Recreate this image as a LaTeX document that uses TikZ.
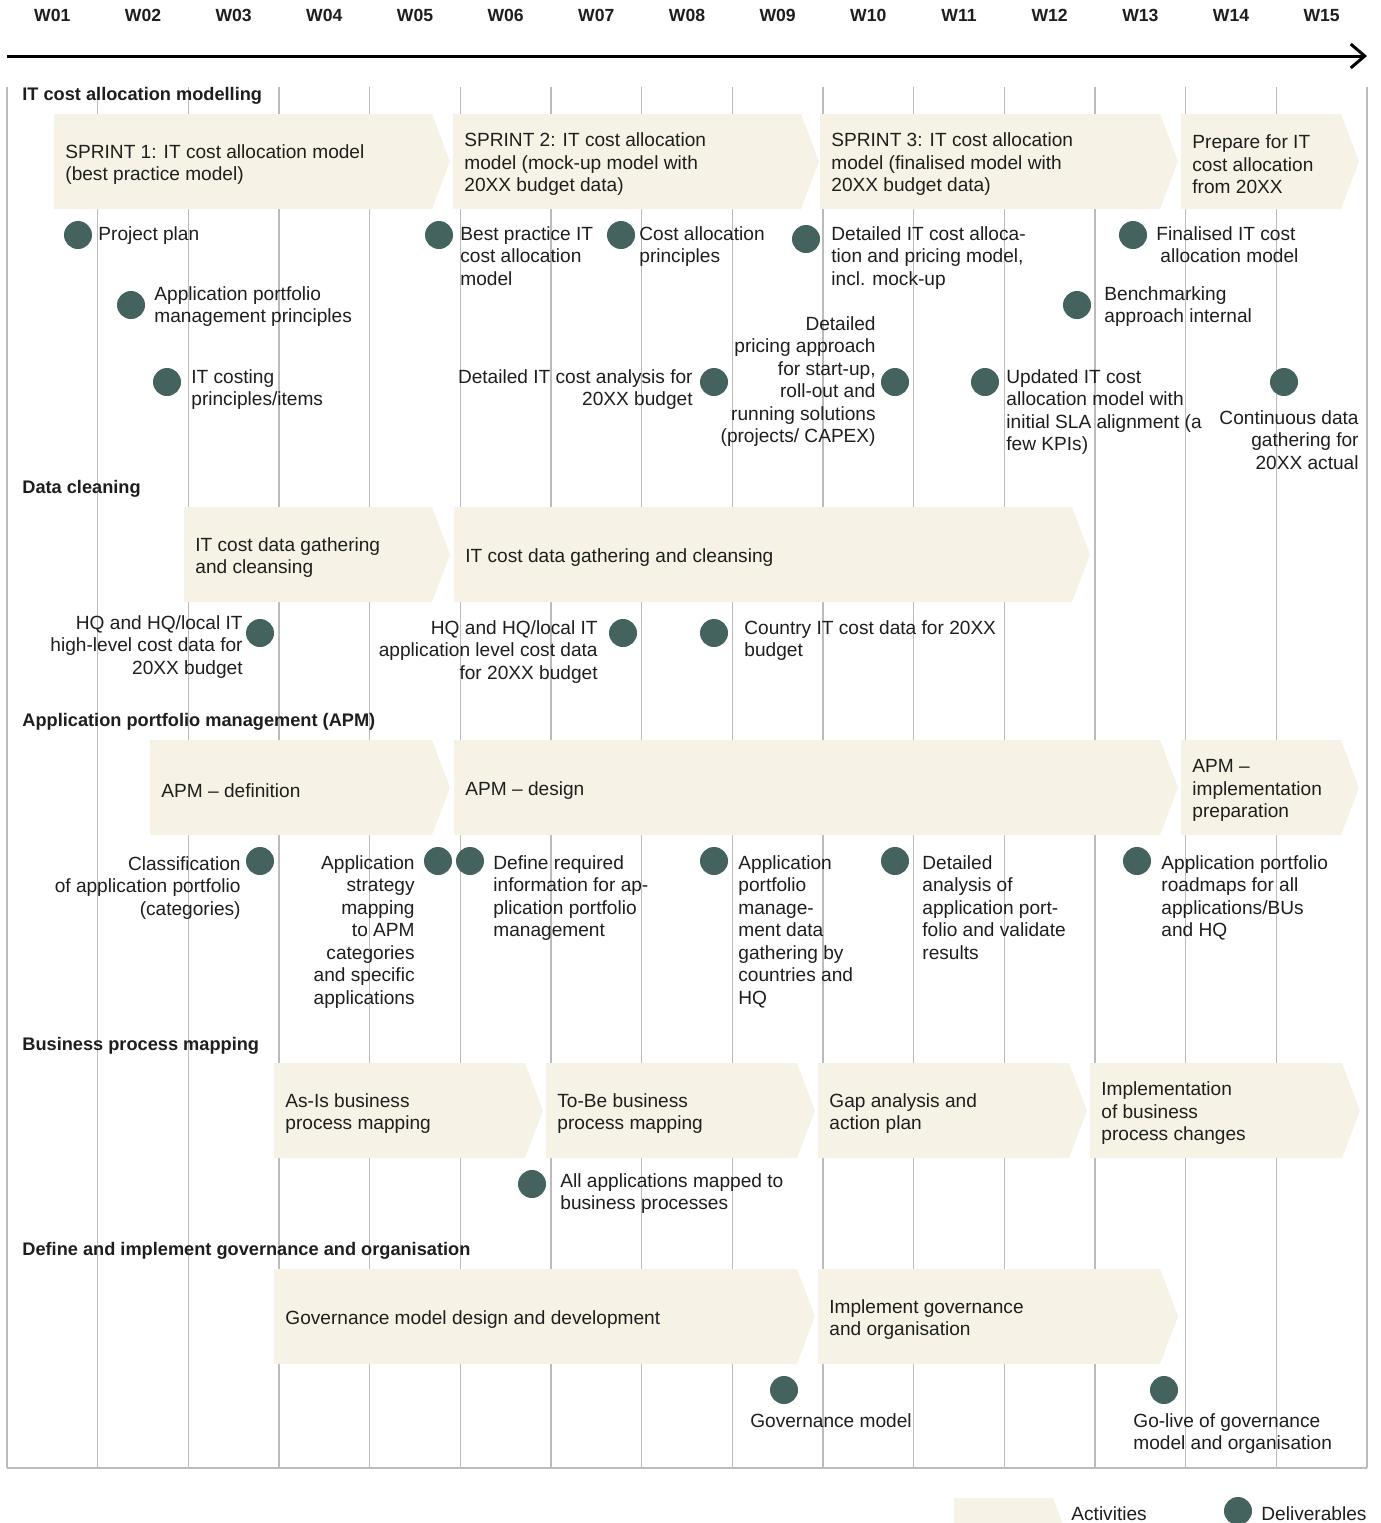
\documentclass[tikz,border=0pt]{standalone}
\usepackage{fontspec}
\setmainfont{Liberation Sans}
\usetikzlibrary{arrows.meta}

\definecolor{actfill}{HTML}{F6F3E6}
\definecolor{delfill}{HTML}{44625E}
\definecolor{gridc}{HTML}{BBBBBB}
\definecolor{inkc}{HTML}{1E1E1E}

\tikzset{
  actshape/.style={fill=actfill, draw=none},
  acttext/.style={anchor=west, align=left, inner sep=0pt, text=inkc,
    font=\fontsize{9.55}{11.25}\selectfont},
  deliv/.style={circle, fill=delfill, draw=none, minimum size=14pt, inner sep=0pt},
  dtext/.style={inner sep=0pt, text=inkc, font=\fontsize{9.55}{11.25}\selectfont},
  dleft/.style={dtext, anchor=north west, align=left},
  dright/.style={dtext, anchor=north east, align=right},
  heading/.style={anchor=west, inner sep=0pt, text=inkc,
    font=\fontsize{9.1}{11}\selectfont\bfseries},
  weeklbl/.style={anchor=base, inner sep=0pt, text=inkc,
    font=\fontsize{8.8}{10}\selectfont\bfseries},
  gridline/.style={draw=gridc, line width=0.8pt},
  timeaxis/.style={draw=black, line width=1.5pt,
    -{Straight Barb[length=7pt,width=12pt,line width=1.5pt]}},
}

% activity chevron: name, left x, tip x, top y, text
\newcommand\actbox[5]{%
  \fill[actshape] (#2,#4) -- ({#3-18},#4) -- (#3,{#4+47.5})
    -- ({#3-18},{#4+95}) -- (#2,{#4+95}) -- cycle;
  \node[acttext] (#1) at ({#2+11},{#4+50.5}) {#5};
}

\begin{document}
\begin{tikzpicture}[x=0.5pt, y=-0.5pt]
\useasboundingbox (0,0) rectangle (1381,1523);
\clip (0,0) rectangle (1381,1523);
\fill[white] (0,0) rectangle (1381,1523);

% week grid
\foreach \k in {0,...,15} {
  \draw[gridline] ({7+90.667*\k},87) -- ({7+90.667*\k},1468);
}
\draw[gridline] (7,1468) -- (1367,1468);

% week labels
\foreach \k in {1,...,15} {
  \node[weeklbl] (w\k) at ({7+90.667*(\k-0.5)},21.5)
    {W\ifnum\k<10 0\fi\k};
}

% time axis
\coordinate (axisstart) at (7,56);
\coordinate (axisend) at (1367,56);
\draw[timeaxis] (axisstart) -- (axisend);

% ---------------- IT cost allocation modelling
\node[heading] (h1) at (22,96) {IT cost allocation modelling};
\actbox{s1}{54}{450}{114}{SPRINT 1: IT cost allocation model\\(best practice model)}
\actbox{s2}{453}{819}{114}{SPRINT 2: IT cost allocation\\model (mock-up model with\\20XX budget data)}
\actbox{s3}{820}{1178}{114}{SPRINT 3: IT cost allocation\\model (finalised model with\\20XX budget data)}
\actbox{s4}{1181}{1359}{114}{Prepare for IT\\cost allocation\\from 20XX}

\node[deliv] (d1) at (78,235) {};
\node[dleft] (t1) at (98,226) {Project plan};
\node[deliv] (d2) at (131,305) {};
\node[dleft] (t2) at (154,286) {Application portfolio\\management principles};
\node[deliv] (d3) at (167,382) {};
\node[dleft] (t3) at (191,369) {IT costing\\principles/items};
\node[deliv] (d4) at (439,235) {};
\node[dleft] (t4) at (460,226) {Best practice IT\\cost allocation\\model};
\node[deliv] (d5) at (621,235) {};
\node[dleft] (t5) at (639,226) {Cost allocation\\principles};
\node[deliv] (d6) at (806,239) {};
\node[dleft] (t6) at (831,226) {Detailed IT cost alloca-\\tion and pricing model,\\incl. mock-up};
\node[deliv] (d7) at (714,382) {};
\node[dright] (t7) at (693,369) {Detailed IT cost analysis for\\20XX budget};
\node[deliv] (d8) at (895,382) {};
\node[dright] (t8) at (876,316) {Detailed\\pricing approach\\for start-up,\\roll-out and\\running solutions\\(projects/ CAPEX)};
\node[deliv] (d9) at (985,382) {};
\node[dleft] (t9) at (1006,369) {Updated IT cost\\allocation model with\\initial SLA alignment (a\\few KPIs)};
\node[deliv] (d10) at (1077,305) {};
\node[dleft] (t10) at (1104,286) {Benchmarking\\approach internal};
\node[deliv] (d11) at (1133,235) {};
\node[dleft] (t11) at (1156,226) {Finalised IT cost\\\hspace*{2pt}allocation model};
\node[deliv] (d12) at (1284,382) {};
\node[dright] (t12) at (1359,410) {Continuous data\\gathering for\\20XX actual};

% ---------------- Data cleaning
\node[heading] (h2) at (22,489) {Data cleaning};
\actbox{c1}{184}{450}{507}{IT cost data gathering\\and cleansing}
\actbox{c2}{454}{1090}{507}{IT cost data gathering and cleansing}

\node[deliv] (d13) at (260,633) {};
\node[dright] (t13) at (243,615) {HQ and HQ/local IT\\high-level cost data for\\20XX budget};
\node[deliv] (d14) at (623,633) {};
\node[dright] (t14) at (598,620) {HQ and HQ/local IT\\application level cost data\\for 20XX budget};
\node[deliv] (d15) at (714,633) {};
\node[dleft] (t15) at (744,620) {Country IT cost data for 20XX\\budget};

% ---------------- Application portfolio management
\node[heading] (h3) at (22,722) {Application portfolio management (APM)};
\actbox{a1}{150}{450}{740}{APM -- definition}
\actbox{a2}{454}{1178}{740}{APM -- design}
\actbox{a3}{1181}{1359}{740}{APM --\\implementation\\preparation}

\node[deliv] (d16) at (260,861) {};
\node[dright] (t16) at (241,856) {Classification\\of application portfolio\\(categories)};
\node[deliv] (d17) at (438,861) {};
\node[dright] (t17) at (415,855) {Application\\strategy\\mapping\\to APM\\categories\\and specific\\applications};
\node[deliv] (d18) at (470,861) {};
\node[dleft] (t18) at (493,855) {Define required\\information for ap-\\plication portfolio\\management};
\node[deliv] (d19) at (714,861) {};
\node[dleft] (t19) at (738,855) {Application\\portfolio\\manage-\\ment data\\gathering by\\countries and\\HQ};
\node[deliv] (d20) at (895,861) {};
\node[dleft] (t20) at (922,855) {Detailed\\analysis of\\application port-\\folio and validate\\results};
\node[deliv] (d21) at (1137,861) {};
\node[dleft] (t21) at (1161,855) {Application portfolio\\roadmaps for all\\applications/BUs\\and HQ};

% ---------------- Business process mapping
\node[heading] (h4) at (22,1046) {Business process mapping};
\actbox{b1}{274}{543}{1063}{As-Is business\\process mapping}
\actbox{b2}{546}{815}{1063}{To-Be business\\process mapping}
\actbox{b3}{818}{1087}{1063}{Gap analysis and\\action plan}
\actbox{b4}{1090}{1360}{1063}{Implementation\\of business\\process changes}

\node[deliv] (d22) at (532,1184) {};
\node[dleft] (t22) at (560,1173) {All applications mapped to\\business processes};

% ---------------- Governance and organisation
\node[heading] (h5) at (22,1251) {Define and implement governance and organisation};
\actbox{g1}{274}{815}{1269}{Governance model design and development}
\actbox{g2}{818}{1178}{1269}{Implement governance\\and organisation}

\node[deliv] (d23) at (784,1390) {};
\node[dtext, anchor=north] (t23) at (831,1413) {Governance model};
\node[deliv] (d24) at (1164,1390) {};
\node[dleft] (t24) at (1133,1413) {Go-live of governance\\model and organisation};

% ---------------- legend
\fill[actshape] (954,1498) -- (1053,1498) -- (1071,1545.5) -- (1053,1593) -- (954,1593) -- cycle;
\node[dtext, anchor=west] (lgact) at (1071,1514) {Activities};
\node[deliv] (lgdot) at (1238,1511) {};
\node[dtext, anchor=west] (lgdel) at (1261,1514) {Deliverables};
\end{tikzpicture}
\end{document}
